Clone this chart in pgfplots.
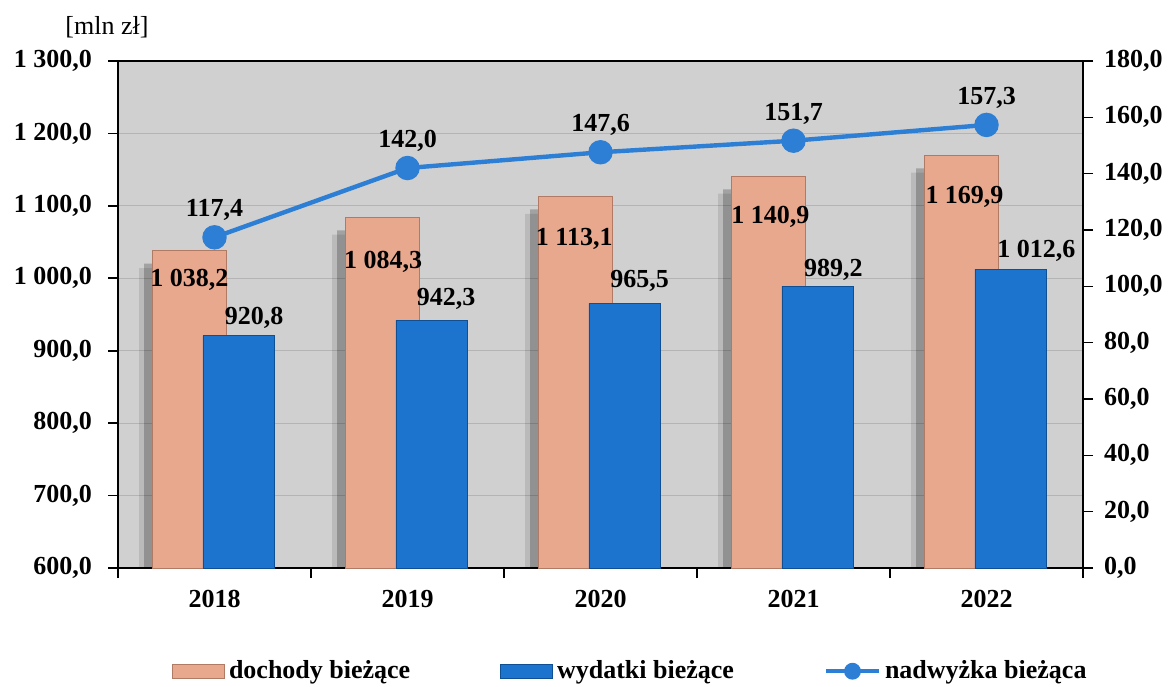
\documentclass[border=0pt]{standalone}
\usepackage{fontspec}
\setmainfont{Liberation Serif}
\usepackage{pgfplots}
\pgfplotsset{compat=1.18}
\definecolor{bgc}{HTML}{D0D0D0}
\definecolor{gridc}{HTML}{B4B4B4}
\definecolor{doch}{HTML}{E8A88E}
\definecolor{dochd}{HTML}{B07A65}
\definecolor{wyd}{HTML}{1C74CF}
\definecolor{wydd}{HTML}{0F4F94}
\definecolor{linec}{HTML}{2C7FD5}
\pgfplotsset{
  /pgf/number format/.cd, fixed, fixed zerofill, precision=1, use comma, 1000 sep={\ }, assume math mode=true,
}
\pgfplotsset{
  lineleg/.style={legend image code/.code={\draw[mark repeat=2, mark phase=2, color=linec, line width=2pt, mark=*, mark size=3.2pt] plot coordinates {(0pt,0pt) (13.25pt,0pt) (26.5pt,0pt)};}},
  dochleg/.style={legend image code/.code={\draw[fill=doch, draw=dochd] (0pt,-3.5pt) rectangle (26pt,3.5pt);}},
  wydleg/.style={legend image code/.code={\draw[fill=wyd, draw=wydd] (0pt,-3.5pt) rectangle (26pt,3.5pt);}},
}
\newcommand{\lf}{\fontsize{13}{15}\selectfont\bfseries}
\begin{document}
\begin{tikzpicture}
\path[use as bounding box] (0,0) rectangle (584pt,343pt);
\begin{axis}[
  at={(59pt,59pt)}, anchor=south west, scale only axis,
  width=482.5pt, height=253.5pt,
  xmin=-0.5, xmax=4.5, ymin=600, ymax=1300,
  axis background/.style={fill=bgc},
  ytick={600,700,...,1300},
  ytick pos=left, xtick pos=bottom,
  xtick={-0.5,0.5,1.5,2.5,3.5,4.5}, xticklabels={},
  extra x ticks={0,1,2,3,4},
  extra x tick labels={2018,2019,2020,2021,2022},
  extra x tick style={major tick length=0pt},
  xticklabel style={yshift=-7.5pt},
  yticklabel style={xshift=-4.5pt},
  tick align=outside, major tick length=5pt,
  ymajorgrids, major grid style={color=gridc, line width=0.6pt},
  axis line style={black, line width=0.8pt},
  tick style={black, line width=0.8pt},
  tick label style={font=\lf},
  legend style={at={(0.532,-0.2036)}, anchor=center, draw=none, fill=none,
    legend columns=3, font=\lf,
    /tikz/every even column/.append style={column sep=43pt}},
  legend cell align=left,
]
% shadows
\addplot[ybar, bar width=0.38, bar shift=-0.20, draw=none, fill=black, fill opacity=0.10, forget plot]
  coordinates {(0,1014.2) (1,1060.3) (2,1089.1) (3,1116.9) (4,1145.9)};
\addplot[ybar, bar width=0.38, bar shift=-0.175, draw=none, fill=black, fill opacity=0.22, forget plot]
  coordinates {(0,1020.2) (1,1066.3) (2,1095.1) (3,1122.9) (4,1151.9)};
% dochody
\addplot[ybar, bar width=0.38, bar shift=-0.13, fill=doch, draw=dochd, line width=0.4pt, forget plot]
  coordinates {(0,1038.2) (1,1084.3) (2,1113.1) (3,1140.9) (4,1169.9)};
% wydatki
\addplot[ybar, bar width=0.37, bar shift=0.125, fill=wyd, draw=wydd, line width=0.4pt, forget plot]
  coordinates {(0,920.8) (1,942.3) (2,965.5) (3,989.2) (4,1012.6)};
% labels dochody
\addplot[draw=none, mark=none, forget plot, point meta=explicit, nodes near coords,
  every node near coord/.append style={anchor=center, font=\lf, text=black}]
  coordinates {(-0.13,998.4) [1038.2] (0.874,1023.3) [1084.3] (1.864,1053.8) [1113.1] (2.88,1084.2) [1140.9] (3.886,1111.9) [1169.9]};
% labels wydatki
\addplot[draw=none, mark=none, forget plot, point meta=explicit, nodes near coords,
  every node near coord/.append style={anchor=center, font=\lf, text=black}]
  coordinates {(0.205,945.9) [920.8] (1.2,972.1) [942.3] (2.203,995.7) [965.5] (3.206,1012.3) [989.2] (4.259,1037.2) [1012.6]};
\addlegendimage{dochleg}
\addlegendentry{dochody bieżące}
\addlegendimage{wydleg}
\addlegendentry{wydatki bieżące}
\addlegendimage{lineleg}
\addlegendentry{nadwyżka bieżąca}
\end{axis}
\begin{axis}[
  at={(59pt,59pt)}, anchor=south west, scale only axis,
  width=482.5pt, height=253.5pt,
  xmin=-0.5, xmax=4.5, ymin=0, ymax=180,
  ytick={0,20,...,180},
  axis y line*=right, axis x line=none,
  tick align=outside, major tick length=5pt,
  axis line style={black, line width=0.8pt},
  tick style={black, line width=0.8pt},
  tick label style={font=\lf},
  yticklabel style={xshift=2pt},
]
\addplot[color=linec, line width=2.2pt, mark=*, mark size=5pt, nodes near coords, point meta=y,
  every node near coord/.append style={anchor=center, yshift=13.5pt, font=\lf, text=black}]
  coordinates {(0,117.4) (1,142.0) (2,147.6) (3,151.7) (4,157.3)};
\end{axis}
\node[font=\fontsize{13}{15}\selectfont] at (53.5pt,329.5pt) {[mln zł]};
\end{tikzpicture}
\end{document}
